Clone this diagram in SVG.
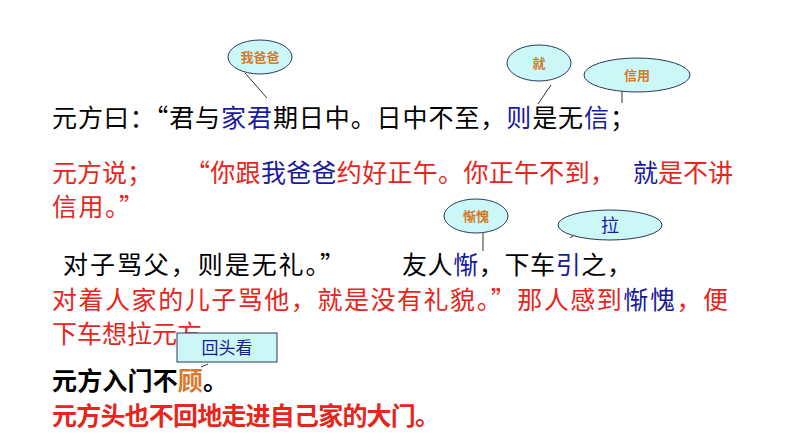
<svg xmlns="http://www.w3.org/2000/svg" width="794" height="447" viewBox="0 0 794 447">
<style>
text{font-family:"Noto Sans CJK SC","Liberation Sans",sans-serif;}
.t{font-size:25px;fill:#000}
.r{fill:#e8251b}.b{fill:#1a1a9c}.o{fill:#d8782a}
.e{fill:#ccf7f7;stroke:#2a3a5a;stroke-width:1}
.c{stroke:#333;stroke-width:1;fill:none}
.s{font-size:13px;font-weight:bold;fill:#d8782a}
</style>
<rect width="794" height="447" fill="#fff"/>
<g id="text">
<text class="t" x="52" y="127" textLength="583" lengthAdjust="spacing">元方曰：“君与<tspan class="b">家君</tspan>期日中。日中不至，<tspan class="b">则</tspan>是无<tspan class="b">信</tspan>；</text>
<text class="t r" x="52" y="182">元方说；</text>
<text class="t r" x="185" y="182" textLength="430" lengthAdjust="spacing">“你跟<tspan class="b">我爸爸</tspan>约好正午。你正午不到，</text>
<text class="t r" x="633" y="182"><tspan class="b">就</tspan>是不讲</text>
<text class="t r" x="52" y="216" textLength="92" lengthAdjust="spacing">信用。”</text>
<text class="t" x="63" y="274" textLength="282" lengthAdjust="spacing">对子骂父，则是无礼。”</text>
<text class="t" x="402" y="274" textLength="230" lengthAdjust="spacing">友人<tspan class="b">惭</tspan>，下车<tspan class="b">引</tspan>之，</text>
<text class="t r" x="52" y="309" textLength="676" lengthAdjust="spacing">对着人家的儿子骂他，就是没有礼貌。”那人感到<tspan class="b">惭愧</tspan>，便</text>
<text class="t r" x="52" y="343">下车想拉元方</text>
<text class="t" x="52" y="390" font-weight="bold" textLength="176" lengthAdjust="spacing">元方入门不<tspan class="o">顾</tspan>。</text>
<text class="t r" x="52" y="425" font-weight="bold" textLength="388" lengthAdjust="spacing">元方头也不回地走进自己家的大门。</text>
</g>
<g id="connectors">
<line class="c" x1="245" y1="73" x2="267" y2="98"/>
<line class="c" x1="551" y1="85" x2="538" y2="104"/>
<line class="c" x1="622" y1="91" x2="622" y2="103"/>
<line class="c" x1="483" y1="233" x2="483" y2="251"/>
<line class="c" x1="586" y1="227" x2="570" y2="238" stroke="#888"/>
<line class="c" x1="208" y1="364" x2="201" y2="367" stroke="#888"/>
</g>
<g id="n1"><ellipse class="e" cx="260" cy="57" rx="32" ry="17"/><text class="s" x="260" y="62" text-anchor="middle">我爸爸</text></g>
<g id="n2"><ellipse class="e" cx="539" cy="63" rx="32" ry="18"/><text class="s" x="539" y="68" text-anchor="middle">就</text></g>
<g id="n3"><ellipse class="e" cx="637" cy="75" rx="53" ry="17"/><text class="s" x="637" y="80" text-anchor="middle">信用</text></g>
<g id="n4"><ellipse class="e" cx="476" cy="216" rx="32" ry="17"/><text class="s" x="476" y="221" text-anchor="middle">惭愧</text></g>
<g id="n5"><ellipse class="e" cx="610" cy="225" rx="52" ry="15"/><text x="610" y="232" font-size="18" fill="#1a1a9c" text-anchor="middle">拉</text></g>
<g id="n6"><rect x="177" y="333" width="100" height="29" fill="#ccf7f7" stroke="#2a3a5a"/><text x="227" y="354" font-size="17" fill="#1a1a9c" text-anchor="middle">回头看</text></g>
</svg>
